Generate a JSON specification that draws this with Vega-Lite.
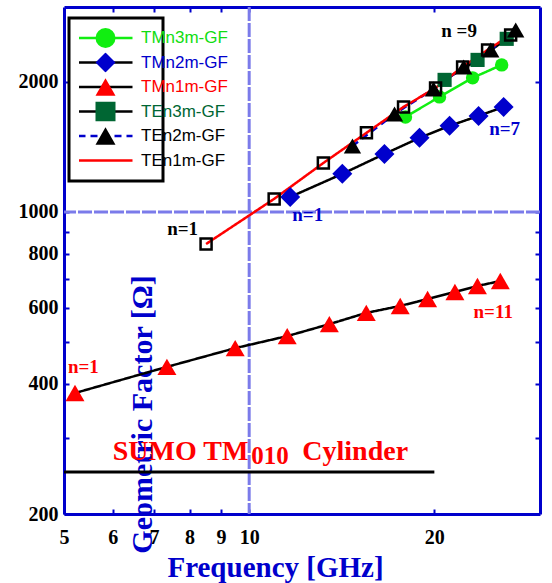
{
  "$schema": "https://vega.github.io/schema/vega-lite/v6.json",
  "width": 476,
  "height": 507,
  "autosize": {"type": "none"},
  "padding": {"left": 64, "top": 7, "right": 12, "bottom": 69},
  "background": "white",
  "config": {"view": {"stroke": null}, "axis": {"grid": false}},
  "datasets": {
    "pts": [
      {"series": "TMn1m-GF", "f": 5.21, "gf": 381},
      {"series": "TMn1m-GF", "f": 7.35, "gf": 438},
      {"series": "TMn1m-GF", "f": 9.49, "gf": 484},
      {"series": "TMn1m-GF", "f": 11.53, "gf": 516},
      {"series": "TMn1m-GF", "f": 13.5, "gf": 550},
      {"series": "TMn1m-GF", "f": 15.5, "gf": 584},
      {"series": "TMn1m-GF", "f": 17.6, "gf": 606},
      {"series": "TMn1m-GF", "f": 19.5, "gf": 629},
      {"series": "TMn1m-GF", "f": 21.6, "gf": 653},
      {"series": "TMn1m-GF", "f": 23.5, "gf": 674},
      {"series": "TMn1m-GF", "f": 25.6, "gf": 692},
      {"series": "TMn2m-GF", "f": 11.66, "gf": 1083},
      {"series": "TMn2m-GF", "f": 14.17, "gf": 1225},
      {"series": "TMn2m-GF", "f": 16.59, "gf": 1362},
      {"series": "TMn2m-GF", "f": 18.92, "gf": 1484},
      {"series": "TMn2m-GF", "f": 21.17, "gf": 1582},
      {"series": "TMn2m-GF", "f": 23.6, "gf": 1668},
      {"series": "TMn2m-GF", "f": 25.92, "gf": 1750},
      {"series": "TMn3m-GF", "f": 17.95, "gf": 1659},
      {"series": "TMn3m-GF", "f": 20.39, "gf": 1846},
      {"series": "TMn3m-GF", "f": 23.08, "gf": 2043},
      {"series": "TMn3m-GF", "f": 25.73, "gf": 2189},
      {"series": "TEn3m-GF", "f": 20.78, "gf": 2021},
      {"series": "TEn3m-GF", "f": 23.51, "gf": 2248},
      {"series": "TEn3m-GF", "f": 26.22, "gf": 2515},
      {"series": "TEn2m-GF", "f": 14.72, "gf": 1421},
      {"series": "TEn2m-GF", "f": 17.23, "gf": 1686},
      {"series": "TEn2m-GF", "f": 19.94, "gf": 1926},
      {"series": "TEn2m-GF", "f": 22.32, "gf": 2166},
      {"series": "TEn2m-GF", "f": 24.7, "gf": 2371},
      {"series": "TEn2m-GF", "f": 27.12, "gf": 2638},
      {"series": "TEn1m-GF", "f": 8.51, "gf": 843},
      {"series": "TEn1m-GF", "f": 10.98, "gf": 1072},
      {"series": "TEn1m-GF", "f": 13.2, "gf": 1298},
      {"series": "TEn1m-GF", "f": 15.51, "gf": 1524},
      {"series": "TEn1m-GF", "f": 17.82, "gf": 1750},
      {"series": "TEn1m-GF", "f": 20.09, "gf": 1936},
      {"series": "TEn1m-GF", "f": 22.23, "gf": 2166},
      {"series": "TEn1m-GF", "f": 24.41, "gf": 2371},
      {"series": "TEn1m-GF", "f": 26.61, "gf": 2568}
    ],
    "nlab": [
      {"label": "n=1", "series": "TMn1m-GF", "f": 5.376, "gf": 437.6},
      {"label": "n=1", "series": "TEn1m-GF", "f": 7.794, "gf": 913.5},
      {"label": "n=1", "series": "TMn2m-GF", "f": 12.45, "gf": 984},
      {"label": "n=11", "series": "TMn1m-GF", "f": 24.93, "gf": 585.3},
      {"label": "n=7", "series": "TMn2m-GF", "f": 26.02, "gf": 1556},
      {"label": "n =9", "series": "TEn1m-GF", "f": 21.94, "gf": 2624}
    ],
    "vref": [{"f": 10}],
    "href": [{"gf": 1000}],
    "base": [{"f": 5, "f2": 20, "gf": 250}],
    "sumo": [{"text": "SUMO TM", "f": 9.97, "gf": 266.6}],
    "sub": [{"text": "010", "f": 10.075, "gf": 261}],
    "cyl": [{"text": "Cylinder", "f": 12.2, "gf": 266.6}]
  },
  "layer": [
    {
      "data": {"name": "vref"},
      "mark": {"type": "rule", "stroke": "#7b7bea", "strokeWidth": 3, "strokeDash": [14, 2]},
      "encoding": {
        "x": {"field": "f", "type": "quantitative", "scale": {"type": "log", "domain": [5, 29.7], "nice": false, "zero": false}, "axis": null}
      }
    },
    {
      "data": {"name": "href"},
      "mark": {"type": "rule", "stroke": "#7b7bea", "strokeWidth": 3, "strokeDash": [14, 2]},
      "encoding": {
        "y": {"field": "gf", "type": "quantitative", "scale": {"type": "log", "domain": [200, 2980], "nice": false, "zero": false}, "axis": null}
      }
    },
    {
      "data": {"name": "base"},
      "mark": {"type": "rule", "stroke": "black", "strokeWidth": 3},
      "encoding": {
        "x": {"field": "f", "type": "quantitative", "scale": {"type": "log", "domain": [5, 29.7], "nice": false, "zero": false}, "axis": null},
        "x2": {"field": "f2"},
        "y": {"field": "gf", "type": "quantitative", "scale": {"type": "log", "domain": [200, 2980], "nice": false, "zero": false}, "axis": null}
      }
    },
    {
      "data": {"name": "pts"},
      "mark": {"type": "line", "strokeWidth": 2.5},
      "encoding": {
        "x": {
          "field": "f", "type": "quantitative",
          "scale": {"type": "log", "domain": [5, 29.7], "nice": false, "zero": false},
          "axis": {
            "orient": "bottom", "values": [5, 6, 7, 8, 9, 10, 20], "format": "d",
            "labelFont": "Liberation Serif", "labelFontSize": 20, "labelFontWeight": "bold", "labelColor": "black",
            "labelBaseline": "alphabetic", "labelPadding": 34, "labelFlush": false, "labelOverlap": false,
            "tickSize": -5, "tickWidth": 2, "tickColor": "#0000cc", "domainColor": "#0000cc", "domainWidth": 3,
            "title": "Frequency [GHz]", "titleFont": "Liberation Serif", "titleFontSize": 29, "titleFontWeight": "bold",
            "titleColor": "#0000cc", "titleX": 211, "titleY": 62, "titleBaseline": "alphabetic", "titleAlign": "center"
          }
        },
        "y": {
          "field": "gf", "type": "quantitative",
          "scale": {"type": "log", "domain": [200, 2980], "nice": false, "zero": false},
          "axis": {
            "orient": "left", "values": [200, 300, 400, 500, 600, 700, 800, 900, 1000, 2000], "format": "d",
            "labelExpr": "indexof([200,400,600,800,1000,2000], datum.value) >= 0 ? datum.label : ''",
            "labelFont": "Liberation Serif", "labelFontSize": 20, "labelFontWeight": "bold", "labelColor": "black",
            "labelBaseline": "middle", "labelPadding": 11, "labelFlush": false, "labelOverlap": false,
            "tickSize": -5, "tickWidth": 2, "tickColor": "#0000cc", "domainColor": "#0000cc", "domainWidth": 3,
            "title": "Geometric Factor [Ω]", "titleFont": "Liberation Serif", "titleFontSize": 30, "titleFontWeight": "bold",
            "titleColor": "#0000cc", "titleX": 78, "titleY": 407, "titleAngle": -90, "titleBaseline": "middle", "titleAlign": "center"
          }
        },
        "stroke": {
          "field": "series", "type": "nominal",
          "scale": {"domain": ["TMn3m-GF", "TMn2m-GF", "TMn1m-GF", "TEn3m-GF", "TEn2m-GF", "TEn1m-GF"], "range": ["#11ee11", "#000000", "#000000", "#000000", "#0000cc", "#ff0000"]},
          "legend": {
            "orient": "none", "legendX": 5, "legendY": 11, "title": null, "symbolType": "stroke", "symbolSize": 2916,
            "symbolStrokeWidth": 2.5, "symbolOffset": -2, "labelExpr": "'                         '",
            "labelFont": "Liberation Sans", "labelFontSize": 17, "labelOffset": 19, "padding": 10, "rowPadding": 4.5,
            "clipHeight": 20, "strokeColor": "black", "fillColor": "white", "zindex": 1,
            "encode": {
              "legend": {"update": {"strokeWidth": {"value": 3}}}
            }
          }
        },
        "strokeDash": {
          "field": "series", "type": "nominal",
          "scale": {"domain": ["TMn3m-GF", "TMn2m-GF", "TMn1m-GF", "TEn3m-GF", "TEn2m-GF", "TEn1m-GF"], "range": [[1, 0], [1, 0], [1, 0], [1, 0], [7, 5], [1, 0]]},
          "legend": null
        }
      }
    },
    {
      "data": {"name": "pts"},
      "mark": {"type": "point", "filled": true, "opacity": 1, "strokeWidth": 2.5},
      "encoding": {
        "x": {
          "field": "f", "type": "quantitative",
          "scale": {"type": "log", "domain": [5, 29.7], "nice": false, "zero": false},
          "axis": {"orient": "top", "values": [6, 7, 8, 9, 10, 20], "labels": false, "title": null,
            "tickSize": -5, "tickWidth": 2, "tickColor": "#0000cc", "domainColor": "#0000cc", "domainWidth": 3}
        },
        "y": {
          "field": "gf", "type": "quantitative",
          "scale": {"type": "log", "domain": [200, 2980], "nice": false, "zero": false},
          "axis": {"orient": "right", "values": [300, 400, 500, 600, 700, 800, 900, 1000, 2000], "labels": false, "title": null,
            "tickSize": -5, "tickWidth": 2, "tickColor": "#0000cc", "domainColor": "#0000cc", "domainWidth": 3}
        },
        "fill": {
          "field": "series", "type": "nominal",
          "scale": {"domain": ["TMn3m-GF", "TMn2m-GF", "TMn1m-GF", "TEn3m-GF", "TEn2m-GF", "TEn1m-GF"], "range": ["#11ee11", "#0000cc", "#ff0000", "#006633", "#000000", "transparent"]},
          "legend": null
        },
        "shape": {
          "field": "series", "type": "nominal",
          "scale": {"domain": ["TMn3m-GF", "TMn2m-GF", "TMn1m-GF", "TEn3m-GF", "TEn2m-GF", "TEn1m-GF"], "range": ["circle", "diamond", "triangle-up", "square", "triangle-up", "square"]},
          "legend": {
            "orient": "top-left", "offset": 5, "title": null, "padding": 16, "rowPadding": 4.5, "clipHeight": 20,
            "symbolSize": 400, "symbolStrokeWidth": 2.5, "symbolOffset": 9, "labelOffset": 24,
            "labelFont": "Liberation Sans", "labelFontSize": 17, "zindex": 2,
            "labelColor": {"expr": "datum.value === 'TMn3m-GF' ? '#11dd11' : datum.value === 'TMn2m-GF' ? '#0000cc' : datum.value === 'TMn1m-GF' ? '#ff0000' : datum.value === 'TEn3m-GF' ? '#006633' : '#000000'"},
            "symbolStrokeColor": {"expr": "datum.value === 'TEn1m-GF' ? 'black' : 'transparent'"},
            "encode": {
              "symbols": {"update": {
                "strokeWidth": {"value": 2.5},
                "opacity": {"value": 1},
                "size": {"signal": "datum.value === 'TMn3m-GF' ? 290 : datum.value === 'TMn2m-GF' ? 600 : datum.value === 'TMn1m-GF' ? 560 : datum.value === 'TEn3m-GF' ? 280 : datum.value === 'TEn2m-GF' ? 520 : 130"}
              }}
            }
          }
        },
        "stroke": {"condition": {"test": "datum.series === 'TEn1m-GF'", "value": "black"}, "value": "transparent"},
        "size": {"condition": [
          {"test": "datum.series === 'TMn3m-GF'", "value": 180},
          {"test": "datum.series === 'TMn2m-GF'", "value": 400},
          {"test": "datum.series === 'TMn1m-GF'", "value": 360},
          {"test": "datum.series === 'TEn3m-GF'", "value": 200},
          {"test": "datum.series === 'TEn2m-GF'", "value": 300}
        ], "value": 121}
      }
    },
    {
      "data": {"name": "nlab"},
      "mark": {"type": "text", "font": "Liberation Serif", "fontWeight": "bold", "fontSize": 19, "align": "center", "baseline": "middle"},
      "encoding": {
        "x": {"field": "f", "type": "quantitative", "scale": {"type": "log", "domain": [5, 29.7], "nice": false, "zero": false}, "axis": null},
        "y": {"field": "gf", "type": "quantitative", "scale": {"type": "log", "domain": [200, 2980], "nice": false, "zero": false}, "axis": null},
        "text": {"field": "label"},
        "color": {"condition": [
          {"test": "datum.series === 'TMn1m-GF'", "value": "#ff0000"},
          {"test": "datum.series === 'TMn2m-GF'", "value": "#0000cc"}
        ], "value": "#000000"}
      }
    },
    {
      "data": {"name": "sumo"},
      "mark": {"type": "text", "font": "Liberation Serif", "fontWeight": "bold", "fontSize": 28, "align": "right", "baseline": "alphabetic", "color": "#ff0000"},
      "encoding": {
        "x": {"field": "f", "type": "quantitative", "scale": {"type": "log", "domain": [5, 29.7], "nice": false, "zero": false}, "axis": null},
        "y": {"field": "gf", "type": "quantitative", "scale": {"type": "log", "domain": [200, 2980], "nice": false, "zero": false}, "axis": null},
        "text": {"field": "text"}
      }
    },
    {
      "data": {"name": "sub"},
      "mark": {"type": "text", "font": "Liberation Serif", "fontWeight": "bold", "fontSize": 25, "align": "left", "baseline": "alphabetic", "color": "#ff0000"},
      "encoding": {
        "x": {"field": "f", "type": "quantitative", "scale": {"type": "log", "domain": [5, 29.7], "nice": false, "zero": false}, "axis": null},
        "y": {"field": "gf", "type": "quantitative", "scale": {"type": "log", "domain": [200, 2980], "nice": false, "zero": false}, "axis": null},
        "text": {"field": "text"}
      }
    },
    {
      "data": {"name": "cyl"},
      "mark": {"type": "text", "font": "Liberation Serif", "fontWeight": "bold", "fontSize": 28, "align": "left", "baseline": "alphabetic", "color": "#ff0000"},
      "encoding": {
        "x": {"field": "f", "type": "quantitative", "scale": {"type": "log", "domain": [5, 29.7], "nice": false, "zero": false}, "axis": null},
        "y": {"field": "gf", "type": "quantitative", "scale": {"type": "log", "domain": [200, 2980], "nice": false, "zero": false}, "axis": null},
        "text": {"field": "text"}
      }
    }
  ]
}
